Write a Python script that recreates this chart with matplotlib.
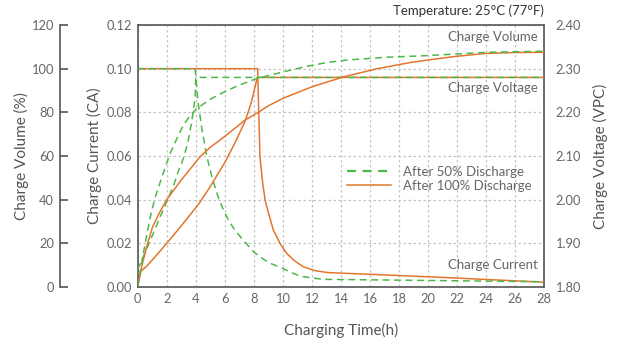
import matplotlib
matplotlib.use("Agg")
import matplotlib.pyplot as plt
from matplotlib.lines import Line2D

plt.rcParams['font.family'] = ['Lato', 'DejaVu Sans']

# ---- data ----
# After 50% discharge (green dashed)
g_cur_t = [0, 3.95, 4.0, 4.15, 4.4, 4.75, 5.14, 5.5, 5.9, 6.3, 6.7, 7.2, 7.6, 8.0, 8.5,
           9.0, 10.0, 10.6, 11.2, 12.1, 13.0, 20.0, 28.0]
g_cur_v = [0.100, 0.100, 0.097, 0.085, 0.0734, 0.060, 0.0498, 0.042, 0.0353, 0.030, 0.026,
           0.022, 0.019, 0.016, 0.0135, 0.0112, 0.0085, 0.0065, 0.0050, 0.0040, 0.0035,
           0.0030, 0.0024]
g_volt_t = [0, 0.5, 1.0, 1.5, 2.06, 2.5, 2.8, 3.14, 3.45, 3.72, 3.95, 4.0, 28.0]
g_volt_v = [1.84, 1.878, 1.917, 1.957, 2.00, 2.035, 2.065, 2.094, 2.13, 2.178, 2.232, 2.28, 2.28]
g_vol_t = [0, 0.3, 0.6, 0.9, 1.2, 1.6, 2.22, 2.7, 3.14, 3.6, 4.06, 5.0, 6.0, 7.0, 8.2,
           10.0, 11.6, 13.0, 14.5, 17.0, 20.0, 24.0, 28.0]
g_vol_v = [0, 12, 23, 33, 41, 49, 61, 68, 74, 78.5, 81.7, 86, 89.5, 92.5, 95.5,
           98.5, 101, 102.8, 104, 105.2, 106, 107.5, 108]

# After 100% discharge (orange solid)
o_cur_t = [0, 8.26, 8.3, 8.42, 8.6, 8.77, 9.0, 9.34, 9.8, 10.26, 10.8, 11.4, 12.2, 13.1,
           20.0, 28.0]
o_cur_v = [0.100, 0.100, 0.0887, 0.0597, 0.048, 0.040, 0.034, 0.0261, 0.020, 0.0154,
           0.012, 0.0093, 0.0075, 0.0066, 0.0047, 0.0022]
o_volt_t = [0, 0.6, 1.3, 2.0, 3.0, 4.2, 5.0, 5.5, 6.0, 6.7, 7.4, 7.8, 8.08, 8.24, 28.0]
o_volt_v = [1.83, 1.847, 1.873, 1.90, 1.94, 1.99, 2.03, 2.058, 2.085, 2.13, 2.18, 2.22,
            2.258, 2.28, 2.28]
o_vol_t = [0, 0.3, 0.62, 1.03, 1.5, 2.0, 3.0, 4.3, 5.0, 6.0, 7.4, 8.3, 9.0, 10.0, 12.0,
           14.2, 16.5, 18.75, 20.0, 22.0, 24.0, 26.0, 28.0]
o_vol_v = [0, 10, 18.5, 27.6, 34, 40, 49, 59.7, 64, 69, 76.5, 80, 83, 86.4, 91.7,
           96.3, 100, 102.8, 104, 105.7, 107, 107.4, 107.5]

x_ticks = list(range(0, 29, 2))
cur_ticks = [0.00, 0.02, 0.04, 0.06, 0.08, 0.10, 0.12]
vol_ticks = [0, 20, 40, 60, 80, 100, 120]
volt_ticks = [1.80, 1.90, 2.00, 2.10, 2.20, 2.30, 2.40]

GREEN = '#4DB84A'
ORANGE = '#E2762E'
TXT = '#666666'
AX = '#555555'

fig = plt.figure(figsize=(6.27, 3.46), dpi=100)
ax = fig.add_axes([0.2196, 0.1705, 0.6485, 0.7572])
axv = ax.twinx()   # voltage
axp = ax.twinx()   # volume

ax.set_xlim(0, 28)
ax.set_ylim(0, 0.12)
axv.set_ylim(1.80, 2.40)
axp.set_ylim(0, 120)

ax.grid(True, color='#c4c4c4', linestyle=(0, (2, 2)), linewidth=0.9)
ax.set_axisbelow(True)

lw = 1.1
dash = (0, (4.5, 3))
# currents
ax.plot(g_cur_t, g_cur_v, color=GREEN, lw=lw, linestyle=dash, zorder=3)
ax.plot(o_cur_t, o_cur_v, color=ORANGE, lw=lw, zorder=2)
# voltages
axv.plot(g_volt_t, g_volt_v, color=GREEN, lw=lw, linestyle=dash, zorder=3)
axv.plot(o_volt_t, o_volt_v, color=ORANGE, lw=lw, zorder=2)
# volumes
axp.plot(g_vol_t, g_vol_v, color=GREEN, lw=lw, linestyle=dash, zorder=3)
axp.plot(o_vol_t, o_vol_v, color=ORANGE, lw=lw, zorder=2)

# main axes styling
for s in ax.spines.values():
    s.set_color(AX)
    s.set_linewidth(1.2)
ax.set_xticks(x_ticks)
ax.set_yticks(cur_ticks)
ax.set_yticklabels([f"{v:.2f}" for v in cur_ticks])
ax.tick_params(axis='both', length=0, labelsize=9.3, colors=TXT)
ax.tick_params(axis='x', pad=4)
ax.tick_params(axis='y', pad=4)
ax.set_xlabel('Charging Time(h)', fontsize=11, color=AX, labelpad=13)
ax.set_ylabel('Charge Current (CA)', fontsize=11, color=AX, labelpad=3)

# voltage axis (right)
for s in axv.spines.values():
    s.set_visible(False)
axv.set_yticks(volt_ticks)
axv.set_yticklabels([f"{v:.2f}" for v in volt_ticks])
axv.tick_params(axis='y', length=0, labelsize=9.3, colors=TXT, pad=8)
axv.set_ylabel('Charge Voltage (VPC)', fontsize=11, color=AX, labelpad=9)

# volume axis (far left)
for s in axp.spines.values():
    s.set_visible(False)
axp.spines['left'].set_visible(True)
axp.spines['left'].set_position(('axes', -0.19))
axp.spines['left'].set_color(AX)
axp.spines['left'].set_linewidth(1.2)
axp.yaxis.set_label_position('left')
axp.yaxis.set_ticks_position('left')
axp.set_yticks(vol_ticks)
axp.tick_params(axis='y', direction='in', length=5.5, width=1.2, color=AX,
                labelsize=9.3, labelcolor=TXT, pad=4.5)
axp.set_ylabel('Charge Volume (%)', fontsize=11, color=AX, labelpad=2)

# annotations
ax.text(0.985, 0.955, 'Charge Volume', transform=ax.transAxes, ha='right', va='center',
        fontsize=9.5, color=TXT)
ax.text(0.985, 0.76, 'Charge Voltage', transform=ax.transAxes, ha='right', va='center',
        fontsize=9.5, color=TXT)
ax.text(0.985, 0.085, 'Charge Current', transform=ax.transAxes, ha='right', va='center',
        fontsize=9.5, color=TXT)
ax.text(1.0, 1.055, 'Temperature: 25°C (77°F)', transform=ax.transAxes, ha='right',
        va='center', fontsize=9.5, color='#333333')

# legend
handles = [Line2D([], [], color=GREEN, lw=1.6, linestyle=(0, (4, 3))),
           Line2D([], [], color=ORANGE, lw=1.1)]
leg = ax.legend(handles, ['After 50% Discharge', 'After 100% Discharge'],
                loc='center left', bbox_to_anchor=(0.515, 0.414), frameon=False,
                borderpad=0, borderaxespad=0, handlelength=3.3, handletextpad=0.9,
                labelspacing=0.15, fontsize=9.5)
for t in leg.get_texts():
    t.set_color(TXT)

fig.savefig('out.png', dpi=100)
